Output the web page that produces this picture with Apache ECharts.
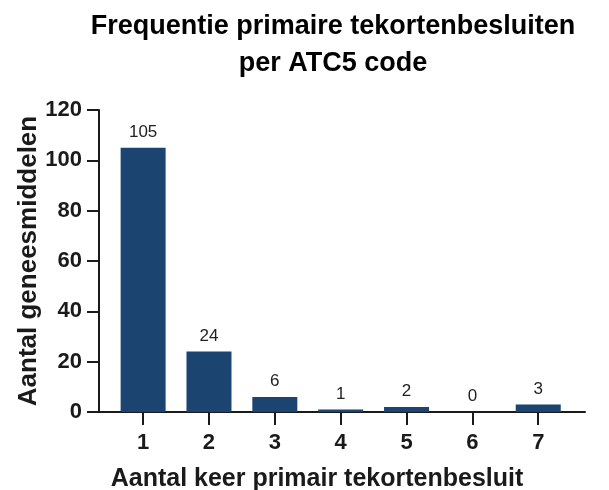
<!DOCTYPE html>
<html>
<head>
<meta charset="utf-8">
<script src="https://cdn.jsdelivr.net/npm/echarts@6/dist/echarts.min.js"></script>
<style>
  html, body { margin: 0; padding: 0; background: #fff; }
  #chart { width: 609px; height: 490px; }
</style>
</head>
<body>
<div id="chart"></div>
<script>
// aantal keer primair tekortenbesluit
const categories = [1, 2, 3, 4, 5, 6, 7];
// aantal geneesmiddelen
const counts = [105, 24, 6, 1, 2, 0, 3];
const yTicks = { min: 0, max: 120, interval: 20 };
// the x axis line runs a bit past the outer bars on both sides
const xRange = { min: 0.33, max: 7.71 };

const font = "Liberation Sans, Arial, sans-serif";
const ink = "#1a1a1a";

const barData = categories.map((c, i) => [c, counts[i]]);

const chart = echarts.init(document.getElementById("chart"));
chart.setOption({
  animation: false,
  title: {
    text: "Frequentie primaire tekortenbesluiten\nper ATC5 code",
    left: 328,
    textAlign: "center",
    top: 3,
    textStyle: { fontFamily: font, fontSize: 27, fontWeight: "bold", color: "#000", lineHeight: 37 }
  },
  grid: { left: 99, right: 24, top: 110, bottom: 78, outerBoundsMode: "none", containLabel: false },
  xAxis: {
    type: "value",
    min: xRange.min,
    max: xRange.max,
    name: "Aantal keer primair tekortenbesluit",
    nameLocation: "middle",
    nameGap: 55,
    nameMoveOverlap: false,
    nameTextStyle: { fontFamily: font, fontSize: 25, fontWeight: "bold", color: ink, padding: [0, 50, 0, 0] },
    axisLine: { show: true, lineStyle: { color: ink, width: 2 } },
    axisTick: { show: true, length: 13, customValues: categories, lineStyle: { color: ink, width: 2 } },
    axisLabel: { fontFamily: font, fontSize: 22, fontWeight: "bold", color: ink, margin: 20, customValues: categories },
    splitLine: { show: false }
  },
  yAxis: {
    type: "value",
    min: yTicks.min,
    max: yTicks.max,
    interval: yTicks.interval,
    name: "Aantal geneesmiddelen",
    nameLocation: "middle",
    nameGap: 57,
    nameMoveOverlap: false,
    nameTextStyle: { fontFamily: font, fontSize: 26, fontWeight: "bold", color: ink },
    axisLine: { show: true, lineStyle: { color: ink, width: 2 } },
    axisTick: { show: true, length: 12, lineStyle: { color: ink, width: 2 } },
    axisLabel: { fontFamily: font, fontSize: 22, fontWeight: "bold", color: ink, margin: 17 },
    splitLine: { show: false }
  },
  series: [{
    type: "bar",
    data: barData,
    barWidth: 45,
    itemStyle: { color: "#1b4471" },
    label: {
      show: true,
      position: "top",
      distance: 7,
      fontFamily: font,
      fontSize: 17,
      color: "#222",
      formatter: p => p.value[1]
    }
  }]
});
</script>
</body>
</html>
